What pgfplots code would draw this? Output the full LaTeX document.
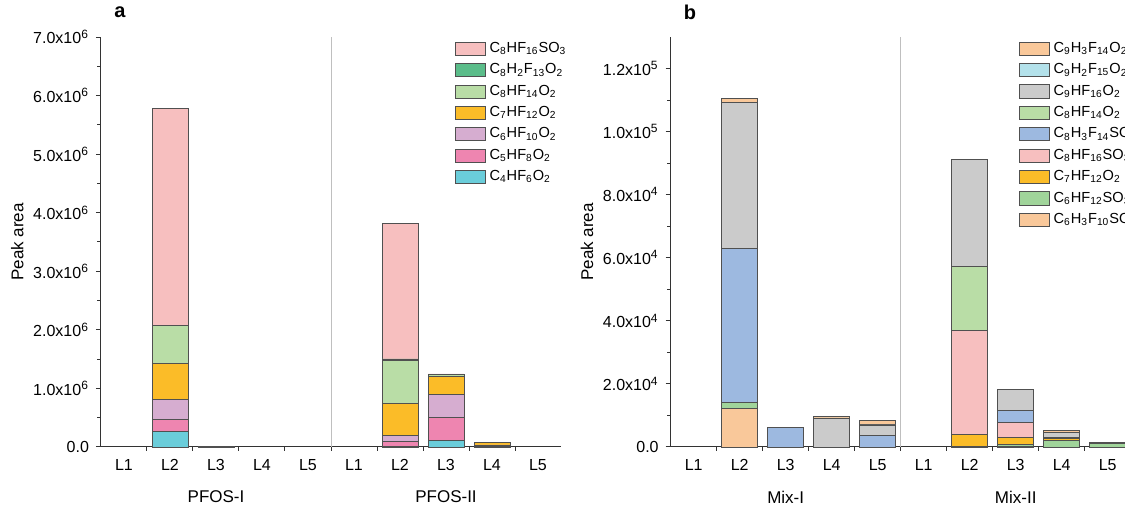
\documentclass[border=0pt]{standalone}
\usepackage{fontspec}
\setmainfont{Liberation Sans}
\usepackage{pgfplots}
\pgfplotsset{compat=1.18}

\definecolor{cPFOS}{HTML}{F7BFBF}
\definecolor{cHtwo}{HTML}{5BBD8A}
\definecolor{cCeight}{HTML}{B9DDA6}
\definecolor{cCseven}{HTML}{FBBC28}
\definecolor{cCsix}{HTML}{D6ADD0}
\definecolor{cCfive}{HTML}{EE85B0}
\definecolor{cCfour}{HTML}{6ACDDA}
\definecolor{cPeach}{HTML}{F9C89A}
\definecolor{cCyan}{HTML}{B3E1EA}
\definecolor{cGray}{HTML}{CBCBCB}
\definecolor{cBlue}{HTML}{9DB9E0}
\definecolor{cGreen}{HTML}{A0D49A}
\definecolor{edge}{HTML}{505050}

\pgfplotsset{
  peakbars/.style={
    ybar stacked, bar width=0.78,
    scale only axis, width=230pt, height=205pt,
    xmin=0.5, xmax=10.5, ymin=0,
    scaled y ticks=false,
    axis lines=left, axis line style={-, black!80, line width=0.5pt},
    xtick={1,...,10}, xticklabels={L1,L2,L3,L4,L5,L1,L2,L3,L4,L5},
    minor xtick={1.5,2.5,...,9.5},
    major x tick style={draw=none},
    tick align=outside, major tick length=2.5pt, minor tick length=1.8pt,
    tick style={black!80, line width=0.5pt},
    ticklabel style={font=\fontsize{8}{9}\selectfont},
    ylabel={Peak area}, ylabel style={font=\fontsize{8.5}{10}\selectfont, yshift=-2pt},
    legend image code/.code={\draw[##1] (0pt,-3.3pt) rectangle (15pt,3.3pt);},
    reverse legend,
    legend cell align=left,
    legend style={draw=none, fill=none, font=\fontsize{7.3}{8}\selectfont,
      anchor=north west, row sep=0.1pt},
    clip=false,
  }
}

\begin{document}
\begin{tikzpicture}
\path[use as bounding box] (0,0) rectangle (562.5pt,258.5pt);

% panel a
\begin{axis}[peakbars, at={(50.5pt,35pt)}, anchor=south west,
  ymax=7e6, ytick={0,1e6,2e6,3e6,4e6,5e6,6e6,7e6}, minor ytick={5e5,1.5e6,2.5e6,3.5e6,4.5e6,5.5e6,6.5e6},
  yticklabels={0.0,1.0x10\textsuperscript{6},2.0x10\textsuperscript{6},3.0x10\textsuperscript{6},4.0x10\textsuperscript{6},5.0x10\textsuperscript{6},6.0x10\textsuperscript{6},7.0x10\textsuperscript{6}},
  legend style={at={(0.755,1.008)}}]
\draw[black!25, line width=0.5pt] (axis cs:5.5,0) -- (axis cs:5.5,7e6);
\addplot[fill=cCfour, draw=edge] coordinates {(1,0) (2,268000) (3,2000) (4,0) (5,0) (6,0) (7,12000) (8,114000) (9,0) (10,0)};
\addplot[fill=cCfive, draw=edge] coordinates {(1,0) (2,200000) (3,0) (4,0) (5,0) (6,0) (7,75000) (8,388000) (9,10000) (10,0)};
\addplot[fill=cCsix, draw=edge] coordinates {(1,0) (2,340000) (3,0) (4,0) (5,0) (6,0) (7,110000) (8,392000) (9,25000) (10,0)};
\addplot[fill=cCseven, draw=edge] coordinates {(1,0) (2,615000) (3,0) (4,0) (5,0) (6,0) (7,546000) (8,308000) (9,40000) (10,0)};
\addplot[fill=cCeight, draw=edge] coordinates {(1,0) (2,654000) (3,0) (4,0) (5,0) (6,0) (7,740000) (8,35000) (9,0) (10,0)};
\addplot[fill=cHtwo, draw=edge] coordinates {(1,0) (2,5000) (3,0) (4,0) (5,0) (6,0) (7,20000) (8,5000) (9,0) (10,0)};
\addplot[fill=cPFOS, draw=edge] coordinates {(1,0) (2,3700000) (3,8000) (4,0) (5,0) (6,0) (7,2310000) (8,5000) (9,0) (10,0)};
\legend{C\textsubscript{4}HF\textsubscript{6}O\textsubscript{2},
  C\textsubscript{5}HF\textsubscript{8}O\textsubscript{2},
  C\textsubscript{6}HF\textsubscript{10}O\textsubscript{2},
  C\textsubscript{7}HF\textsubscript{12}O\textsubscript{2},
  C\textsubscript{8}HF\textsubscript{14}O\textsubscript{2},
  C\textsubscript{8}H\textsubscript{2}F\textsubscript{13}O\textsubscript{2},
  C\textsubscript{8}HF\textsubscript{16}SO\textsubscript{3}}
\node[font=\fontsize{8.5}{10}\selectfont] at (axis cs:3,0) [yshift=-25pt] {PFOS-I};
\node[font=\fontsize{8.5}{10}\selectfont] at (axis cs:8,0) [yshift=-25pt] {PFOS-II};
\end{axis}

% panel b
\begin{axis}[peakbars, at={(335.35pt,35pt)}, anchor=south west,
  ymax=130000, ytick={0,20000,40000,60000,80000,100000,120000}, minor ytick={10000,30000,50000,70000,90000,110000},
  yticklabels={0.0,2.0x10\textsuperscript{4},4.0x10\textsuperscript{4},6.0x10\textsuperscript{4},8.0x10\textsuperscript{4},1.0x10\textsuperscript{5},1.2x10\textsuperscript{5}},
  legend style={at={(0.743,1.008)}}]
\draw[black!25, line width=0.5pt] (axis cs:5.5,0) -- (axis cs:5.5,130000);
\addplot[fill=cPeach, draw=edge] coordinates {(1,0) (2,12350) (3,0) (4,0) (5,0) (6,0) (7,150) (8,200) (9,0) (10,0)};
\addplot[fill=cGreen, draw=edge] coordinates {(1,0) (2,1900) (3,0) (4,0) (5,0) (6,0) (7,0) (8,700) (9,2100) (10,1000)};
\addplot[fill=cCseven, draw=edge] coordinates {(1,0) (2,0) (3,0) (4,0) (5,0) (6,0) (7,3900) (8,2200) (9,500) (10,0)};
\addplot[fill=cPFOS, draw=edge] coordinates {(1,0) (2,0) (3,0) (4,0) (5,0) (6,0) (7,32900) (8,4800) (9,300) (10,0)};
\addplot[fill=cBlue, draw=edge] coordinates {(1,0) (2,48750) (3,6230) (4,0) (5,3700) (6,0) (7,0) (8,3800) (9,200) (10,0)};
\addplot[fill=cCeight, draw=edge] coordinates {(1,0) (2,0) (3,0) (4,0) (5,0) (6,0) (7,20200) (8,0) (9,0) (10,0)};
\addplot[fill=cGray, draw=edge] coordinates {(1,0) (2,46200) (3,0) (4,9100) (5,3300) (6,0) (7,34100) (8,6450) (9,1500) (10,200)};
\addplot[fill=cCyan, draw=edge] coordinates {(1,0) (2,100) (3,0) (4,100) (5,200) (6,0) (7,0) (8,0) (9,0) (10,200)};
\addplot[fill=cPeach, draw=edge] coordinates {(1,0) (2,1100) (3,0) (4,400) (5,1200) (6,0) (7,0) (8,0) (9,600) (10,0)};
\legend{C\textsubscript{6}H\textsubscript{3}F\textsubscript{10}SO\textsubscript{3},
  C\textsubscript{6}HF\textsubscript{12}SO\textsubscript{3},
  C\textsubscript{7}HF\textsubscript{12}O\textsubscript{2},
  C\textsubscript{8}HF\textsubscript{16}SO\textsubscript{3},
  C\textsubscript{8}H\textsubscript{3}F\textsubscript{14}SO\textsubscript{3},
  C\textsubscript{8}HF\textsubscript{14}O\textsubscript{2},
  C\textsubscript{9}HF\textsubscript{16}O\textsubscript{2},
  C\textsubscript{9}H\textsubscript{2}F\textsubscript{15}O\textsubscript{2},
  C\textsubscript{9}H\textsubscript{3}F\textsubscript{14}O\textsubscript{2}}
\node[font=\fontsize{8.5}{10}\selectfont] at (axis cs:3,0) [yshift=-25pt] {Mix-I};
\node[font=\fontsize{8.5}{10}\selectfont] at (axis cs:8,0) [yshift=-25pt] {Mix-II};
\end{axis}

\node[font=\bfseries\fontsize{10}{12}\selectfont] at (60pt,252.5pt) {a};
\node[font=\bfseries\fontsize{10}{12}\selectfont] at (345pt,252.5pt) {b};
\end{tikzpicture}
\end{document}
